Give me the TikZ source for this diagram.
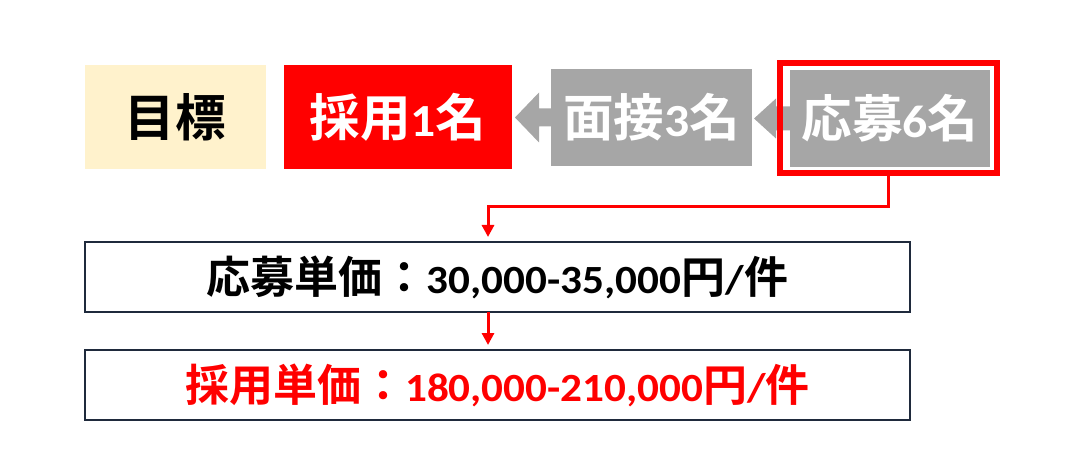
\documentclass[tikz,border=0pt]{standalone}
\usepackage{fontspec}
\setmainfont{Carlito}[UprightFont=* Bold, Numbers=Lining, FakeStretch=1.08]
\newfontfamily\jpfont{Noto Sans CJK JP}[UprightFont=* Bold, Scale=1.1]
\usetikzlibrary{arrows.meta}
\definecolor{goalfill}{HTML}{FFF2CC}
\definecolor{stagegray}{HTML}{A6A6A6}
\definecolor{hirered}{HTML}{FF0000}
\definecolor{boxline}{HTML}{1F2A3C}
\newcommand{\jp}[1]{{\jpfont #1}}

\begin{document}
\begin{tikzpicture}[x=1pt, y=-1pt,
    every node/.style={inner sep=0pt, outer sep=0pt},
    stage/.style={minimum width=201pt, minimum height=97pt, fill=stagegray,
      text=white, font=\fontsize{46}{50}\selectfont},
    costbox/.style={draw=boxline, line width=1.5pt, fill=white,
      minimum width=825pt, minimum height=70pt, font=\fontsize{40}{44}\selectfont},
    link/.style={draw=hirered, line width=3pt,
      -{Triangle[length=12pt,width=12pt]}, shorten >=5pt}]
  \useasboundingbox (0,0) rectangle (1078,462);

  % Riga superiore
  \node (goal) at (175.5,117) [minimum width=181pt, minimum height=104pt,
    fill=goalfill, font=\fontsize{46}{50}\selectfont] {\jp{目標}};
  \node (hire) at (398,117) [minimum width=228pt, minimum height=104pt,
    fill=hirered, text=white, font=\fontsize{46}{50}\selectfont] {\jp{採用}1\jp{名}};
  \node (interview) at (651.5,117.5) [stage] {\jp{面接}3\jp{名}};
  \node (apply) at (890,118.5) [stage, minimum width=200pt] {\jp{応募}6\jp{名}};

  % Punte delle frecce
  \fill[stagegray] (interview.west) ++(1,-9) -- ++(-13,0) -- ++(0,-16)
    -- ++(-24,25) -- ++(24,25) -- ++(0,-16) -- ++(13,0) -- cycle;
  \fill[stagegray] (apply.west) ++(1,-12) -- ++(-15,0) -- ++(0,-8)
    -- ++(-22,20) -- ++(22,20) -- ++(0,-8) -- ++(15,0) -- cycle;
  \node (frame) at (888.25,118.5) [draw=hirered, line width=6pt,
    minimum width=216.5pt, minimum height=110pt] {};

  % Riquadri dei costi
  \node (cost) at (497.5,277) [costbox] {\jp{応募単価：}30,000-35,000\jp{円}/\jp{件}};
  \node (result) at (497.5,385) [costbox, text=hirered] {\jp{採用単価：}180,000-210,000\jp{円}/\jp{件}};

  % Collegamenti
  \coordinate (bend) at (488,207);
  \draw[link] (frame.south) |- (bend) -- (bend |- cost.north);
  \draw[link] (cost.south -| bend) -- (result.north -| bend);
\end{tikzpicture}
\end{document}
